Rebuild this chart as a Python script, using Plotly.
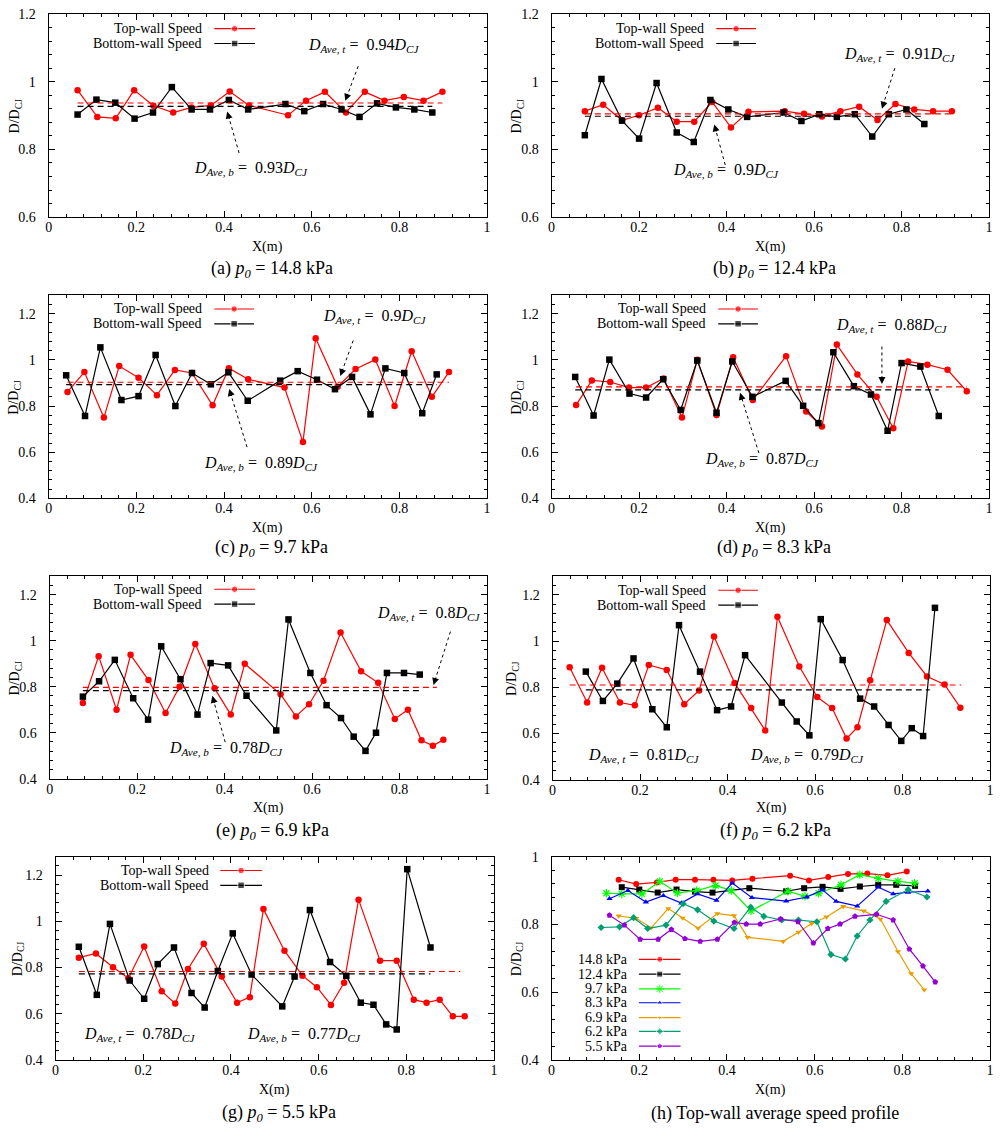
import math
import plotly.graph_objects as go

W, H = 1002, 1141
FONT = "Liberation Serif"

# ---------------- data ----------------
a_top_x = [0.066, 0.111, 0.153, 0.195, 0.239, 0.284, 0.326, 0.370, 0.413, 0.457, 0.546, 0.587, 0.630, 0.678, 0.721, 0.766, 0.810, 0.855, 0.898]
a_top_y = [0.975, 0.896, 0.892, 0.975, 0.929, 0.909, 0.924, 0.930, 0.971, 0.930, 0.901, 0.944, 0.970, 0.909, 0.970, 0.944, 0.955, 0.944, 0.970]
a_bot_x = [0.066, 0.109, 0.152, 0.196, 0.238, 0.281, 0.326, 0.368, 0.411, 0.455, 0.540, 0.583, 0.626, 0.668, 0.709, 0.749, 0.792, 0.834, 0.875]
a_bot_y = [0.903, 0.947, 0.938, 0.891, 0.909, 0.984, 0.918, 0.918, 0.946, 0.918, 0.934, 0.913, 0.934, 0.918, 0.896, 0.936, 0.924, 0.918, 0.909]

b_top_x = [0.076, 0.118, 0.161, 0.200, 0.243, 0.286, 0.326, 0.367, 0.410, 0.450, 0.533, 0.577, 0.618, 0.660, 0.703, 0.745, 0.786, 0.829, 0.872, 0.915]
b_top_y = [0.913, 0.932, 0.886, 0.901, 0.923, 0.882, 0.882, 0.940, 0.865, 0.911, 0.913, 0.905, 0.897, 0.913, 0.926, 0.887, 0.934, 0.918, 0.913, 0.913]
b_bot_x = [0.076, 0.114, 0.161, 0.200, 0.240, 0.286, 0.325, 0.363, 0.404, 0.447, 0.530, 0.571, 0.612, 0.652, 0.693, 0.733, 0.771, 0.811, 0.852]
b_bot_y = [0.842, 1.008, 0.885, 0.832, 0.996, 0.850, 0.822, 0.946, 0.918, 0.896, 0.909, 0.884, 0.904, 0.896, 0.904, 0.838, 0.904, 0.918, 0.875]

c_top_x = [0.043, 0.0815, 0.126, 0.161, 0.205, 0.247, 0.288, 0.327, 0.374, 0.411, 0.455, 0.538, 0.580, 0.609, 0.659, 0.700, 0.745, 0.789, 0.828, 0.874, 0.913]
c_top_y = [0.861, 0.947, 0.750, 0.973, 0.923, 0.847, 0.956, 0.943, 0.803, 0.964, 0.916, 0.880, 0.644, 1.093, 0.883, 0.960, 1.001, 0.800, 1.037, 0.840, 0.947]
c_bot_x = [0.040, 0.083, 0.118, 0.166, 0.205, 0.244, 0.289, 0.327, 0.370, 0.410, 0.454, 0.528, 0.568, 0.612, 0.653, 0.692, 0.734, 0.768, 0.811, 0.852, 0.885]
c_bot_y = [0.933, 0.757, 1.054, 0.826, 0.843, 1.021, 0.800, 0.943, 0.894, 0.946, 0.823, 0.910, 0.951, 0.914, 0.873, 0.926, 0.764, 0.963, 0.943, 0.769, 0.937]

d_top_x = [0.056, 0.092, 0.134, 0.177, 0.216, 0.256, 0.298, 0.333, 0.377, 0.415, 0.460, 0.536, 0.582, 0.618, 0.652, 0.699, 0.743, 0.781, 0.815, 0.859, 0.905, 0.949]
d_top_y = [0.804, 0.911, 0.904, 0.880, 0.880, 0.919, 0.750, 1.000, 0.761, 1.011, 0.826, 1.016, 0.776, 0.711, 1.066, 0.937, 0.840, 0.704, 0.993, 0.979, 0.957, 0.864]
d_bot_x = [0.054, 0.096, 0.132, 0.178, 0.216, 0.255, 0.295, 0.333, 0.377, 0.413, 0.459, 0.535, 0.575, 0.610, 0.644, 0.691, 0.730, 0.768, 0.800, 0.843, 0.885]
d_bot_y = [0.926, 0.759, 1.001, 0.854, 0.837, 0.916, 0.783, 0.997, 0.771, 0.993, 0.840, 0.909, 0.801, 0.726, 1.033, 0.886, 0.850, 0.693, 0.986, 0.971, 0.757]

e_top_x = [0.076, 0.112, 0.153, 0.185, 0.226, 0.265, 0.297, 0.333, 0.377, 0.414, 0.446, 0.528, 0.563, 0.593, 0.626, 0.665, 0.712, 0.751, 0.789, 0.819, 0.850, 0.876, 0.900]
e_top_y = [0.729, 0.933, 0.700, 0.939, 0.829, 0.686, 0.800, 0.986, 0.793, 0.679, 0.900, 0.767, 0.671, 0.724, 0.826, 1.036, 0.867, 0.817, 0.660, 0.700, 0.567, 0.543, 0.569]
e_bot_x = [0.076, 0.113, 0.149, 0.191, 0.225, 0.255, 0.299, 0.338, 0.368, 0.408, 0.450, 0.518, 0.546, 0.596, 0.633, 0.666, 0.695, 0.722, 0.746, 0.771, 0.810, 0.846]
e_bot_y = [0.757, 0.824, 0.917, 0.750, 0.657, 0.976, 0.833, 0.679, 0.903, 0.893, 0.761, 0.610, 1.093, 0.860, 0.720, 0.664, 0.583, 0.521, 0.600, 0.860, 0.860, 0.853]

f_top_x = [0.039, 0.079, 0.113, 0.154, 0.188, 0.220, 0.261, 0.301, 0.335, 0.369, 0.416, 0.454, 0.486, 0.514, 0.564, 0.605, 0.639, 0.672, 0.697, 0.726, 0.764, 0.814, 0.856, 0.896, 0.932]
f_top_y = [0.887, 0.734, 0.885, 0.734, 0.722, 0.897, 0.875, 0.727, 0.786, 1.020, 0.819, 0.710, 0.613, 1.105, 0.890, 0.758, 0.710, 0.578, 0.627, 0.830, 1.091, 0.949, 0.847, 0.812, 0.712]
f_bot_x = [0.076, 0.115, 0.148, 0.185, 0.228, 0.261, 0.289, 0.337, 0.376, 0.408, 0.440, 0.524, 0.558, 0.587, 0.613, 0.663, 0.703, 0.735, 0.768, 0.797, 0.821, 0.847, 0.874]
f_bot_y = [0.868, 0.741, 0.816, 0.925, 0.705, 0.627, 1.069, 0.868, 0.701, 0.717, 0.939, 0.734, 0.652, 0.592, 1.095, 0.918, 0.751, 0.717, 0.637, 0.568, 0.623, 0.589, 1.144]

g_top_x = [0.053, 0.092, 0.131, 0.166, 0.202, 0.242, 0.273, 0.302, 0.338, 0.379, 0.414, 0.443, 0.474, 0.522, 0.563, 0.596, 0.628, 0.658, 0.691, 0.740, 0.778, 0.817, 0.846, 0.876, 0.906, 0.933]
g_top_y = [0.843, 0.861, 0.801, 0.754, 0.891, 0.698, 0.644, 0.794, 0.903, 0.761, 0.648, 0.672, 1.053, 0.873, 0.765, 0.715, 0.638, 0.734, 1.094, 0.830, 0.830, 0.661, 0.648, 0.661, 0.589, 0.589]
g_bot_x = [0.053, 0.094, 0.124, 0.169, 0.202, 0.233, 0.270, 0.310, 0.340, 0.370, 0.404, 0.447, 0.517, 0.545, 0.580, 0.626, 0.663, 0.696, 0.725, 0.754, 0.778, 0.802, 0.855]
g_bot_y = [0.890, 0.682, 0.989, 0.744, 0.665, 0.815, 0.887, 0.690, 0.627, 0.785, 0.948, 0.770, 0.632, 0.761, 1.049, 0.824, 0.764, 0.648, 0.639, 0.554, 0.532, 1.226, 0.887]

# average lines: value and x span (top wall, bottom wall)
avg_top = [0.937, 0.905, 0.903, 0.883, 0.797, 0.810, 0.783]
avg_bot = [0.927, 0.898, 0.893, 0.870, 0.783, 0.789, 0.773]
avg_top_span = [[0.066, 0.898], [0.076, 0.915], [0.043, 0.913], [0.056, 0.949], [0.076, 0.885], [0.039, 0.934], [0.053, 0.923]]
avg_bot_span = [[0.066, 0.875], [0.076, 0.852], [0.040, 0.885], [0.054, 0.885], [0.076, 0.846], [0.076, 0.862], [0.053, 0.855]]
avg_top_label = ["0.94", "0.91", "0.9", "0.88", "0.8", "0.81", "0.78"]
avg_bot_label = ["0.93", "0.9", "0.89", "0.87", "0.78", "0.79", "0.77"]

panel_caption = ["(a) <i>p<sub>0</sub></i> = 14.8 kPa", "(b) <i>p<sub>0</sub></i> = 12.4 kPa",
                 "(c) <i>p<sub>0</sub></i> = 9.7 kPa", "(d) <i>p<sub>0</sub></i> = 8.3 kPa",
                 "(e) <i>p<sub>0</sub></i> = 6.9 kPa", "(f) <i>p<sub>0</sub></i> = 6.2 kPa",
                 "(g) <i>p<sub>0</sub></i> = 5.5 kPa", "(h) Top-wall average speed profile"]

# panel (h): top-wall average speed profiles
h_names = ["14.8 kPa", "12.4 kPa", "9.7 kPa", "8.3 kPa", "6.9 kPa", "6.2 kPa", "5.5 kPa"]
h148_x = [0.153, 0.193, 0.240, 0.283, 0.327, 0.369, 0.412, 0.458, 0.544, 0.587, 0.631, 0.676, 0.720, 0.766, 0.810]
h148_y = [0.932, 0.919, 0.924, 0.932, 0.932, 0.932, 0.930, 0.935, 0.944, 0.930, 0.940, 0.949, 0.950, 0.945, 0.956]
h124_x = [0.160, 0.200, 0.242, 0.285, 0.327, 0.367, 0.451, 0.535, 0.576, 0.618, 0.659, 0.703, 0.745, 0.786, 0.829]
h124_y = [0.910, 0.903, 0.894, 0.903, 0.897, 0.894, 0.907, 0.898, 0.907, 0.911, 0.905, 0.912, 0.917, 0.917, 0.914]
h97_x = [0.125, 0.160, 0.206, 0.247, 0.287, 0.331, 0.374, 0.410, 0.455, 0.539, 0.578, 0.609, 0.660, 0.703, 0.745, 0.790, 0.828]
h97_y = [0.892, 0.890, 0.890, 0.927, 0.893, 0.900, 0.915, 0.900, 0.840, 0.898, 0.883, 0.892, 0.917, 0.947, 0.936, 0.927, 0.922]
h83_x = [0.132, 0.174, 0.215, 0.255, 0.296, 0.333, 0.376, 0.412, 0.457, 0.535, 0.582, 0.618, 0.649, 0.697, 0.745, 0.779, 0.813, 0.858]
h83_y = [0.876, 0.900, 0.866, 0.885, 0.863, 0.890, 0.871, 0.922, 0.879, 0.869, 0.881, 0.902, 0.868, 0.854, 0.910, 0.890, 0.895, 0.898]
h69_x = [0.153, 0.193, 0.227, 0.266, 0.299, 0.334, 0.378, 0.416, 0.447, 0.528, 0.563, 0.593, 0.627, 0.665, 0.712, 0.750, 0.790, 0.820, 0.850]
h69_y = [0.825, 0.818, 0.790, 0.847, 0.819, 0.789, 0.832, 0.826, 0.762, 0.750, 0.777, 0.803, 0.822, 0.853, 0.840, 0.816, 0.720, 0.655, 0.607]
h62_x = [0.113, 0.155, 0.187, 0.219, 0.261, 0.300, 0.333, 0.370, 0.416, 0.454, 0.484, 0.525, 0.563, 0.605, 0.637, 0.670, 0.697, 0.726, 0.763, 0.813, 0.856]
h62_y = [0.791, 0.793, 0.820, 0.788, 0.798, 0.861, 0.843, 0.810, 0.788, 0.851, 0.824, 0.813, 0.813, 0.808, 0.711, 0.698, 0.766, 0.813, 0.868, 0.903, 0.881]
h55_x = [0.132, 0.166, 0.202, 0.243, 0.273, 0.304, 0.339, 0.378, 0.417, 0.444, 0.476, 0.522, 0.562, 0.597, 0.630, 0.658, 0.692, 0.741, 0.779, 0.816, 0.847, 0.875]
h55_y = [0.827, 0.798, 0.756, 0.756, 0.785, 0.758, 0.750, 0.756, 0.806, 0.801, 0.801, 0.816, 0.808, 0.745, 0.788, 0.801, 0.824, 0.830, 0.813, 0.727, 0.677, 0.630]

top_x = [a_top_x, b_top_x, c_top_x, d_top_x, e_top_x, f_top_x, g_top_x]
top_y = [a_top_y, b_top_y, c_top_y, d_top_y, e_top_y, f_top_y, g_top_y]
bot_x = [a_bot_x, b_bot_x, c_bot_x, d_bot_x, e_bot_x, f_bot_x, g_bot_x]
bot_y = [a_bot_y, b_bot_y, c_bot_y, d_bot_y, e_bot_y, f_bot_y, g_bot_y]
h_x = [h148_x, h124_x, h97_x, h83_x, h69_x, h62_x, h55_x]
h_y = [h148_y, h124_y, h97_y, h83_y, h69_y, h62_y, h55_y]

# ---------------- styles / layout geometry ----------------
RED = "#ff0000"
BLK = "#000000"
h_colors = ["#ff0000", "#000000", "#00ff00", "#0000ff", "#e69f00", "#009e73", "#9400d3"]
h_symbols = ["circle", "square", "asterisk-open", "triangle-up", "triangle-down", "diamond", "pentagon"]
h_sizes = [6, 6, 7, 5.5, 5.5, 5.5, 6]

# pixel boxes: left, right, top, bottom, y-range
GEOM = [
    (45, 487, 7, 213, [0.6, 1.2]),
    (552, 993, 7, 213, [0.6, 1.2]),
    (45, 487, 292, 498, [0.4, 1.28]),
    (552, 993, 292, 498, [0.4, 1.28]),
    (46, 487, 577, 782, [0.4, 1.28]),
    (553, 994, 577, 783, [0.4, 1.28]),
    (52, 494, 861, 1067, [0.4, 1.28]),
    (552, 994, 861, 1067, [0.4, 1.0]),
]
YLAB_X = [12, 518, 11, 518, 12, 512, 14, 517]
XLAB_Y = [243, 243, 528, 528, 812, 812, 1097, 1097]
CAP_Y = [266, 266, 549, 549, 835, 835, 1121, 1121]


def px(x):
    return x / W


def py(y):
    return 1 - y / H


fig = go.Figure()
layout = dict(width=W, height=H, margin=dict(l=0, r=0, t=0, b=0),
              paper_bgcolor="white", plot_bgcolor="rgba(0,0,0,0)", showlegend=False,
              font=dict(family=FONT, size=14, color="black"))

annotations = []
shapes = []

for i, (L, R, T, B, yr) in enumerate(GEOM):
    s = "" if i == 0 else str(i + 1)
    common = dict(ticks="inside", ticklen=6, tickwidth=1, tickcolor="black",
                  showline=True, linecolor="black", linewidth=1, mirror="allticks",
                  showgrid=False, zeroline=False,
                  tickfont=dict(family=FONT, size=14, color="black"),
                  minor=dict(dtick=0.04, ticks="inside", ticklen=3, tickwidth=1,
                             tickcolor="black", showgrid=False))
    layout["xaxis" + s] = dict(domain=[px(L), px(R)], range=[0, 1], dtick=0.2, tick0=0,
                               anchor="y" + s, ticklabelstandoff=-3, **common)
    layout["yaxis" + s] = dict(domain=[py(B), py(T)], range=yr, dtick=0.2, tick0=0,
                               anchor="x" + s, ticklabelstandoff=9, **common)
    xr = "x" + s
    yrf = "y" + s
    if i < 7:
        fig.add_trace(go.Scatter(x=top_x[i], y=top_y[i], mode="lines+markers", xaxis=xr, yaxis=yrf,
                                 line=dict(color=RED, width=1.2),
                                 marker=dict(symbol="circle", size=6.5, color=RED), cliponaxis=False))
        fig.add_trace(go.Scatter(x=bot_x[i], y=bot_y[i], mode="lines+markers", xaxis=xr, yaxis=yrf,
                                 line=dict(color=BLK, width=1.2),
                                 marker=dict(symbol="square", size=6.5, color=BLK), cliponaxis=False))
        fig.add_trace(go.Scatter(x=avg_top_span[i], y=[avg_top[i]] * 2, mode="lines", xaxis=xr, yaxis=yrf,
                                 line=dict(color=RED, width=1.2, dash="6px,4px")))
        fig.add_trace(go.Scatter(x=avg_bot_span[i], y=[avg_bot[i]] * 2, mode="lines", xaxis=xr, yaxis=yrf,
                                 line=dict(color=BLK, width=1.2, dash="6px,4px")))
    else:
        for k in range(len(h_x)):
            sym = h_symbols[k]
            mk = dict(symbol=sym, size=h_sizes[k], color=h_colors[k])
            if sym == "asterisk-open":
                mk["line"] = dict(color=h_colors[k], width=1.2)
            fig.add_trace(go.Scatter(x=h_x[k], y=h_y[k], mode="lines+markers", xaxis=xr, yaxis=yrf,
                                     line=dict(color=h_colors[k], width=1.2), marker=mk, cliponaxis=False))
    # axis titles and captions
    cx = (L + R) / 2
    annotations.append(dict(x=px(cx), y=py(XLAB_Y[i]), xref="paper", yref="paper", text="X(m)",
                            showarrow=False, font=dict(size=14), xanchor="center", yanchor="middle"))
    annotations.append(dict(x=px(YLAB_X[i]), y=py((T + B) / 2), xref="paper", yref="paper",
                            text="D/D<sub>CJ</sub>", textangle=-90, showarrow=False,
                            font=dict(size=14), xanchor="center", yanchor="middle"))
    annotations.append(dict(x=px(cx + 4), y=py(CAP_Y[i]), xref="paper", yref="paper", text=panel_caption[i],
                            showarrow=False, font=dict(size=18), xanchor="center", yanchor="middle"))

# overlay axis in pixel units, used only for the legend keys
layout["xaxis9"] = dict(domain=[0, 1], range=[0, W], visible=False, anchor="y9", fixedrange=True)
layout["yaxis9"] = dict(domain=[0, 1], range=[H, 0], visible=False, anchor="x9", fixedrange=True)

# legend keys for panels (a)-(g): text right edge, row1 y, row2 y, key line x0, x1
LEG = [(202, 22, 37, 212, 253), (708, 22, 37, 718, 758), (202, 306, 321, 212, 252),
       (710, 306, 321, 720, 760), (202, 590, 605, 212, 253), (710, 591, 606, 720, 760),
       (209, 875, 890, 218, 260)]
for (tx, y1, y2, x0, x1) in LEG:
    for (yy, txt, col, sym) in [(y1, "Top-wall Speed", RED, "circle"), (y2, "Bottom-wall Speed", BLK, "square")]:
        annotations.append(dict(x=px(tx), y=py(yy), xref="paper", yref="paper", text=txt, showarrow=False,
                                font=dict(size=14), xanchor="right", yanchor="middle"))
        fig.add_trace(go.Scatter(x=[x0, (x0 + x1) / 2, x1], y=[yy, yy, yy], mode="lines+markers",
                                 xaxis="x9", yaxis="y9", line=dict(color=col, width=1.2),
                                 marker=dict(symbol=sym, size=[0, 6.5, 0], color=col), cliponaxis=False))

# legend for panel (h)
HLEG_Y = [965, 980, 995, 1009, 1024, 1038, 1053]
for k in range(len(h_names)):
    yy = HLEG_Y[k]
    annotations.append(dict(x=px(631), y=py(yy), xref="paper", yref="paper", text=h_names[k], showarrow=False,
                            font=dict(size=14), xanchor="right", yanchor="middle"))
    sym = h_symbols[k]
    mk = dict(symbol=sym, size=[0, h_sizes[k], 0], color=h_colors[k])
    if sym == "asterisk-open":
        mk["line"] = dict(color=h_colors[k], width=1.2)
    fig.add_trace(go.Scatter(x=[640, 661, 682], y=[yy, yy, yy], mode="lines+markers", xaxis="x9", yaxis="y9",
                             line=dict(color=h_colors[k], width=1.2), marker=mk, cliponaxis=False))


def dtxt(sub, val):
    return f"<i>D</i><sub><i>{sub}</i></sub> =&nbsp; {val}<i>D</i><sub><i>CJ</i></sub>"


# average-speed labels: (panel, top-label left x, center y, bottom-label left x, center y)
DLAB = [(0, 307, 43, 193, 168), (1, 848, 52, 675, 170), (2, 323, 318, 203, 467), (3, 840, 327, 708, 463),
        (4, 377, 619, 167, 755), (5, 590, 762, 753, 762), (6, 82, 1045, 246, 1045)]
for (p, tx, ty, bx, by) in DLAB:
    annotations.append(dict(x=px(tx - 3), y=py(ty - 4), xref="paper", yref="paper",
                            text=dtxt("Ave, t", avg_top_label[p]),
                            showarrow=False, font=dict(size=16), xanchor="left", yanchor="middle"))
    annotations.append(dict(x=px(bx - 3), y=py(by - 4), xref="paper", yref="paper",
                            text=dtxt("Ave, b", avg_bot_label[p]),
                            showarrow=False, font=dict(size=16), xanchor="left", yanchor="middle"))

# dashed pointer arrows: tail -> head (pixels)
ARROWS = [((357, 60), (344, 95)), ((237, 148), (225, 106)),
          ((898, 62), (885, 103)), ((727, 160), (716, 119)),
          ((352, 338), (339, 374)), ((245, 446), (227, 387)),
          ((885, 344), (885, 382)), ((761, 452), (742, 391)),
          ((450, 633), (433, 687)), ((223, 745), (210, 698))]
for (t, hd) in ARROWS:
    dx, dy = t[0] - hd[0], t[1] - hd[1]
    ln = math.hypot(dx, dy)
    shapes.append(dict(type="line", xref="paper", yref="paper", x0=px(t[0]), y0=py(t[1]),
                       x1=px(hd[0] + dx / ln * 6), y1=py(hd[1] + dy / ln * 6),
                       line=dict(color="black", width=1, dash="3px,3px")))
    annotations.append(dict(x=px(hd[0]), y=py(hd[1]), xref="paper", yref="paper", text="", showarrow=True,
                            ax=dx / ln * 9, ay=dy / ln * 9, arrowhead=2, arrowsize=1.4, arrowwidth=1,
                            arrowcolor="black", standoff=0))

layout["annotations"] = annotations
layout["shapes"] = shapes
fig.update_layout(**layout)
fig.write_html("out.html")
